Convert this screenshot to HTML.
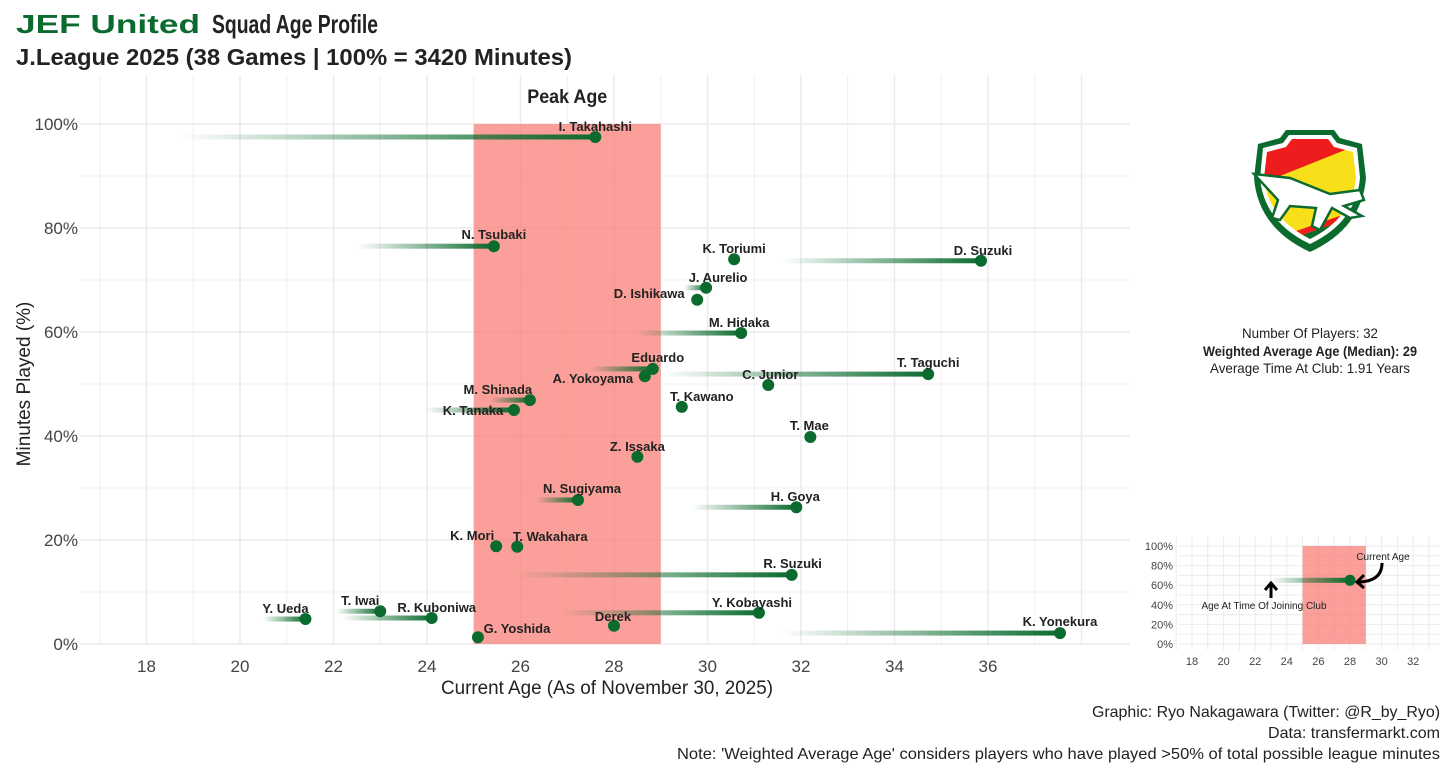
<!DOCTYPE html>
<html><head><meta charset="utf-8">
<style>
html,body{margin:0;padding:0;background:#fff;}
svg{display:block;font-family:"Liberation Sans Narrow","Liberation Sans",sans-serif;}
.lbl{font-family:"Liberation Sans",sans-serif;font-weight:bold;font-size:13px;fill:#222;}
</style></head><body>
<svg id="chart" width="1456" height="777" viewBox="0 0 1456 777" xmlns="http://www.w3.org/2000/svg">
<defs>
<linearGradient id="fade" x1="0" x2="1" y1="0" y2="0">
<stop offset="0" stop-color="#0b6b2e" stop-opacity="0"/>
<stop offset="1" stop-color="#0b6b2e" stop-opacity="1"/>
</linearGradient>
</defs>
<text x="16" y="33" font-size="26" font-weight="bold" fill="#0b6b2e" textLength="184" lengthAdjust="spacingAndGlyphs">JEF United</text>
<text x="212" y="33" font-size="26" font-weight="bold" fill="#222" textLength="166" lengthAdjust="spacingAndGlyphs">Squad Age Profile</text>
<text x="16" y="65" font-size="23" font-weight="bold" fill="#222" textLength="556" lengthAdjust="spacingAndGlyphs">J.League 2025 (38 Games | 100% = 3420 Minutes)</text>
<g id="grid"></g>
<rect id="peak" fill="#f87a72" fill-opacity="0.72"></rect>
<text id="peakLbl" y="103" font-size="19" font-weight="bold" fill="#222" text-anchor="middle" textLength="80" lengthAdjust="spacingAndGlyphs">Peak Age</text>
<g id="marks"></g>
<text x="607" y="694" font-size="19" fill="#222" text-anchor="middle" textLength="332" lengthAdjust="spacingAndGlyphs">Current Age (As of November 30, 2025)</text>
<text transform="translate(30,384) rotate(-90)" font-size="19" fill="#222" text-anchor="middle">Minutes Played (%)</text>

<g transform="translate(1250,128)">
<path d="M8,16 L30,10 L36,2 L84,2 L90,10 L112,16 L116,50 Q112,100 60,124 Q8,100 4,50 Z" fill="#0b6b2e"/>
<path d="M13,20 L33,15 L39,7 L81,7 L87,15 L107,20 L110,50 Q106,94 60,116 Q14,94 10,50 Z" fill="#fff"/>
<clipPath id="shield"><path d="M17,24 L36,19 L42,11 L78,11 L84,19 L103,24 L106,50 Q102,90 60,111 Q18,90 14,50 Z"/></clipPath>
<g clip-path="url(#shield)">
<rect x="0" y="0" width="130" height="130" fill="#f7e01a"/>
<path d="M0,0 L130,0 L130,8 L0,60 Z" fill="#ee1c1c"/>
<path d="M0,130 L130,130 L130,80 L0,125 Z" fill="#0b6b2e"/>
<path d="M0,125 L130,80 L130,74 L0,119 Z" fill="#ee1c1c"/>
</g>
<path d="M4,46 L40,50 L80,66 L110,62 L114,72 L94,78 L112,88 L100,90 L82,80 L70,102 L62,98 L66,80 L40,78 L30,92 L22,90 L28,72 Z" fill="#fff" stroke="#0b6b2e" stroke-width="2.5"/>
</g>

<g font-size="14" fill="#222" text-anchor="middle">
<text x="1310" y="338" textLength="136" lengthAdjust="spacingAndGlyphs">Number Of Players: 32</text>
<text x="1310" y="356" font-weight="bold" textLength="214" lengthAdjust="spacingAndGlyphs">Weighted Average Age (Median): 29</text>
<text x="1310" y="373" textLength="200" lengthAdjust="spacingAndGlyphs">Average Time At Club: 1.91 Years</text>
</g>

<g id="inset"></g>

<g font-size="16" fill="#222" text-anchor="end">
<text x="1440" y="717" textLength="348" lengthAdjust="spacingAndGlyphs">Graphic: Ryo Nakagawara (Twitter: @R_by_Ryo)</text>
<text x="1440" y="738" textLength="172" lengthAdjust="spacingAndGlyphs">Data: transfermarkt.com</text>
<text x="1440" y="759" textLength="763" lengthAdjust="spacingAndGlyphs">Note: 'Weighted Average Age' considers players who have played &gt;50% of total possible league minutes</text>
</g>
</svg>
<script>
const players=["I. Takahashi","N. Tsubaki","K. Toriumi","D. Suzuki","J. Aurelio","D. Ishikawa","M. Hidaka","Eduardo","A. Yokoyama","T. Taguchi","C. Junior","M. Shinada","K. Tanaka","T. Kawano","T. Mae","Z. Issaka","N. Sugiyama","H. Goya","K. Mori","T. Wakahara","R. Suzuki","Y. Kobayashi","T. Iwai","R. Kuboniwa","Y. Ueda","Derek","G. Yoshida","K. Yonekura"];
const currentAge=[27.6,25.43,30.57,35.85,29.97,29.78,30.72,28.83,28.66,34.72,31.3,26.2,25.86,29.45,32.2,28.5,27.23,31.9,25.48,25.93,31.8,31.1,23.0,24.1,21.4,28.0,25.09,37.54];
const minutesPct=[97.5,76.5,74.0,73.7,68.5,66.2,59.8,52.9,51.5,51.9,49.8,46.9,45.0,45.6,39.8,36.0,27.7,26.3,18.8,18.7,13.3,6.0,6.3,5.0,4.8,3.5,1.3,2.1];
const joinAge=[18.7,22.5,30.57,31.6,29.5,29.78,28.5,27.5,28.66,29.05,31.3,25.35,23.96,29.45,32.2,28.5,26.35,29.67,25.48,25.93,25.9,26.87,22.07,22.2,20.5,28.0,25.09,31.6];
const labelDx=[0,0,0,2,12,-48,-2,5,-52,0,2,-32,-41,20,-1,0,4,-1,-24,33,1,-7,-20,5,-20,-1,39,0];
const labelDy=[-6,-7,-6,-6,-6,-2,-6,-7,2,-7,-6,-6,0,-6,-7,-6,-7,-6,-6,-6,-7,-6,-6,-6,-6,-5,-4,-7];
const xTicks=[18,20,22,24,26,28,30,32,34,36];
const yTicks=[0,20,40,60,80,100];
const peakRange=[25,29];
const NS="http://www.w3.org/2000/svg";
const x=a=>240+(a-20)*46.75;
const y=p=>644-p*5.2;
function mk(tag,attrs,parent){const e=document.createElementNS(NS,tag);for(const k in attrs)e.setAttribute(k,attrs[k]);parent.appendChild(e);return e;}
const grid=document.getElementById('grid');
for(let a=17;a<=38;a++){const l=mk('line',{x1:x(a),x2:x(a),y1:75,y2:644,stroke:'#ebebeb','stroke-width':a%2?0.8:1.5},grid);

}
for(let p=0;p<=100;p+=10){const l=mk('line',{x1:80,x2:1130,y1:y(p),y2:y(p),stroke:'#ebebeb','stroke-width':p%20?0.8:1.5},grid);

}
xTicks.forEach(t=>{const e=mk('text',{x:x(t),y:672,'font-size':17,fill:'#444','text-anchor':'middle'},grid);e.textContent=t;

});
yTicks.forEach(t=>{const e=mk('text',{x:78,y:y(t)+6,'font-size':17,fill:'#444','text-anchor':'end'},grid);e.textContent=t+'%';

});
const pk=document.getElementById('peak');
pk.setAttribute('x',x(peakRange[0]));pk.setAttribute('width',x(peakRange[1])-x(peakRange[0]));pk.setAttribute('y',y(100));pk.setAttribute('height',y(0)-y(100));
document.getElementById('peakLbl').setAttribute('x',(x(peakRange[0])+x(peakRange[1]))/2);
const marks=document.getElementById('marks');
players.forEach((n,i)=>{
 const cx=x(currentAge[i]),cy=y(minutesPct[i]),sx=x(joinAge[i]);
 if(cx-sx>2){const r=mk('rect',{x:sx,y:cy-2.5,width:cx-sx,height:5,fill:'url(#fade)'},marks);
 
 }
 const c=mk('circle',{cx:cx,cy:cy,r:6,fill:'#0b6b2e'},marks);
 
 
 const t=mk('text',{x:cx+labelDx[i],y:cy+labelDy[i]+(labelDy[i]<0?0:5),'text-anchor':'middle',class:'lbl'},marks);
 t.textContent=n;
 
 
});
const ins=document.getElementById('inset');
const ix=a=>1192+(a-18)*15.8, iy=p=>644-p*0.98;
for(let a=17;a<=33.5;a+=1){const l=mk('line',{x1:ix(a),x2:ix(a),y1:536,y2:650,stroke:'#ebebeb','stroke-width':1},ins);

}
for(let p=0;p<=100;p+=10){const l=mk('line',{x1:1178,x2:1440,y1:iy(p),y2:iy(p),stroke:'#ebebeb','stroke-width':1},ins);

}
const ir=mk('rect',{x:ix(25),y:iy(100),width:ix(29)-ix(25),height:iy(0)-iy(100),fill:'#f87a72','fill-opacity':0.72},ins);


[18,20,22,24,26,28,30,32].forEach(t=>{const e=mk('text',{x:ix(t),y:665,'font-size':11,fill:'#444','text-anchor':'middle'},ins);e.textContent=t;

});
[0,20,40,60,80,100].forEach(t=>{const e=mk('text',{x:1173,y:iy(t)+4,'font-size':11,fill:'#444','text-anchor':'end'},ins);e.textContent=t+'%';

});
const il=mk('rect',{x:ix(23),y:iy(65)-2.5,width:ix(28)-ix(23),height:5,fill:'url(#fade)'},ins);


const ic=mk('circle',{cx:ix(28),cy:iy(65),r:5.5,fill:'#0b6b2e'},ins);


const a1=mk('path',{d:'M1382,563 Q1382,582 1357,582 M1364,575 L1357,582 L1364,588',fill:'none',stroke:'#000','stroke-width':3},ins);


const a2=mk('path',{d:'M1271,598 L1271,584 M1265,590 L1271,583 L1277,590',fill:'none',stroke:'#000','stroke-width':3},ins);


const t1=mk('text',{x:1383,y:560,'font-size':10,fill:'#222','text-anchor':'middle'},ins);t1.textContent='Current Age';


const t2=mk('text',{x:1264,y:609,'font-size':10,fill:'#222','text-anchor':'middle'},ins);t2.textContent='Age At Time Of Joining Club';


</script>
</body></html>
